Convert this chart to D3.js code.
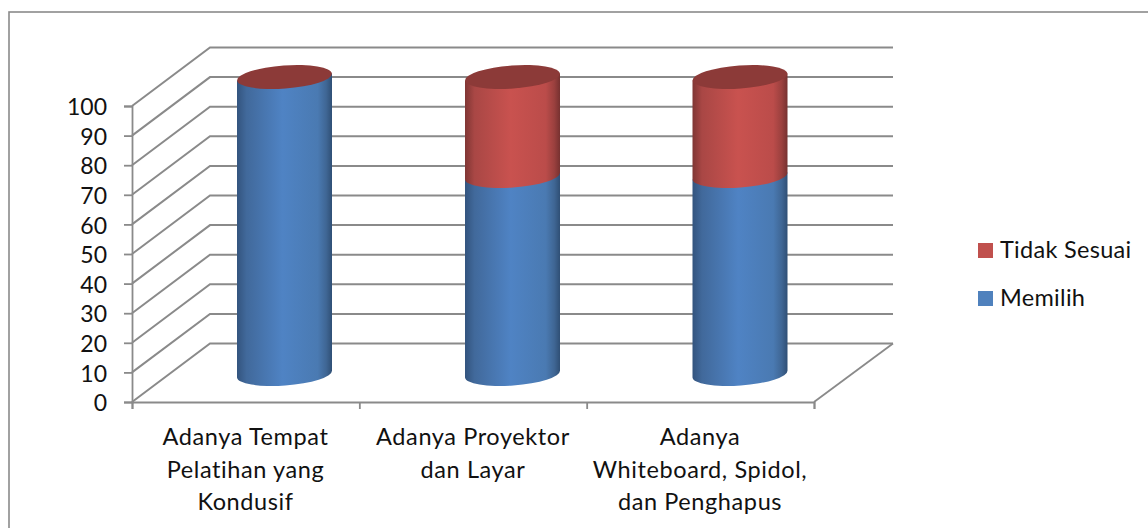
<!DOCTYPE html>
<html><head><meta charset="utf-8">
<script src="https://cdn.jsdelivr.net/npm/d3@7"></script>
<style>html,body{margin:0;padding:0;background:#fff;overflow:hidden}svg{display:block}text{font-family:Lato,sans-serif;fill:#111}</style>
</head><body><div id="c"></div>
<script>
const categories=[["Adanya Tempat","Pelatihan yang","Kondusif"],["Adanya Proyektor","dan Layar"],["Adanya","Whiteboard, Spidol,","dan Penghapus"]];
const memilih=[100,66.67,66.67];
const tidakSesuai=[0,33.33,33.33];
const seriesNames=["Tidak Sesuai","Memilih"];
const yTicks=[0,10,20,30,40,50,60,70,80,90,100];
const W=1148,H=528,FS=23.5;
const svg=d3.select("#c").append("svg").attr("width",W).attr("height",H);
const grid="#8a8a8a";
svg.append("rect").attr("x",9).attr("y",12).attr("width",1200).attr("height",600).attr("fill","#fff").attr("stroke","#8a8a8a").attr("stroke-width",1.6);
const defs=svg.append("defs");
function grad(id,stops){const g=defs.append("linearGradient").attr("id",id);stops.forEach(s=>g.append("stop").attr("offset",s[0]).attr("stop-color",s[1]));}
grad("gb",[[0,"#33547e"],[0.1,"#41699b"],[0.48,"#4f83c4"],[0.85,"#4a7ab2"],[0.94,"#3f6694"],[1,"#2f4f75"]]);
grad("gr",[[0,"#803634"],[0.1,"#a94745"],[0.48,"#c9524f"],[0.85,"#bb4c4a"],[0.94,"#9a403e"],[1,"#763130"]]);
const y=d3.scaleLinear().domain([0,100]).range([402,106]);
const depthX=78,depthY=-58.5;
const g=svg.append("g");
yTicks.forEach(t=>{
 g.append("path").attr("d",`M132,${y(t)}L${132+depthX},${y(t)+depthY}L893,${y(t)+depthY}`).attr("fill","none").attr("stroke",grid).attr("stroke-width",2);
});
g.append("path").attr("d",`M814,402L893,${402+depthY}`).attr("fill","none").attr("stroke",grid).attr("stroke-width",1.8);
const yAxis=d3.axisLeft(y).tickValues(yTicks).tickSize(8).tickPadding(17);
const ya=svg.append("g").attr("transform","translate(132,0)").call(yAxis);
const xAxis=d3.axisBottom(d3.scaleLinear().domain([0,3]).range([132,814])).tickValues([0,1,2,3]).tickSize(7).tickFormat("");
const xa=svg.append("g").attr("transform","translate(0,402)").call(xAxis);
[ya,xa].forEach(a=>{a.selectAll("path.domain").attr("stroke",grid).attr("stroke-width",1.8);a.selectAll("line").attr("stroke",grid).attr("stroke-width",1.8);});
ya.selectAll("text").attr("font-size",23).style("font-family","Lato,sans-serif").attr("fill","#111").attr("dy","0.38em");
const cy=d3.scaleLinear().domain([0,100]).range([374,77]);
const rx=47.5,ry=11.5,rot=-4.2;
const skew=Math.tan(rot*Math.PI/180)*rx;
function body(cx,v0,v1,fill,stack){
 const yb=cy(v0),yt=cy(v1);
 stack.append("path").attr("d",`M${cx-rx},${yt-skew}L${cx+rx},${yt+skew}L${cx+rx},${yb+skew}A${rx},${ry} ${rot} 0 1 ${cx-rx},${yb-skew}Z`).attr("fill",`url(#${fill})`);
}
function cap(cx,v,fill,stack){
 stack.append("ellipse").attr("rx",rx).attr("ry",ry).attr("transform",`translate(${cx},${cy(v)}) rotate(${rot})`).attr("fill",fill);
}
const cxs=[284.5,512.5,740];
cxs.forEach((cx,i)=>{
 const s=svg.append("g");
 body(cx,0,memilih[i],"gb",s);
 if(tidakSesuai[i]>0) body(cx,memilih[i],memilih[i]+tidakSesuai[i],"gr",s);
 cap(cx,memilih[i]+tidakSesuai[i],"#8c3a38",s);
});
const cxl=[245.5,473,700];
categories.forEach((lines,i)=>{
 const t=svg.append("text").attr("text-anchor","middle").attr("font-size",FS).attr("letter-spacing",0.6);
 lines.forEach((l,j)=>t.append("tspan").attr("x",cxl[i]).attr("y",445+j*32.5).text(l));
});
const colors=["#c0504d","#4f81bd"];
seriesNames.forEach((n,i)=>{
 const yy=243+i*48;
 svg.append("rect").attr("x",978).attr("y",yy).attr("width",15).attr("height",15).attr("fill",colors[i]);
 svg.append("text").attr("x",1000).attr("y",yy+15).attr("font-size",FS).attr("letter-spacing",0.3).text(n);
});
</script></body></html>
